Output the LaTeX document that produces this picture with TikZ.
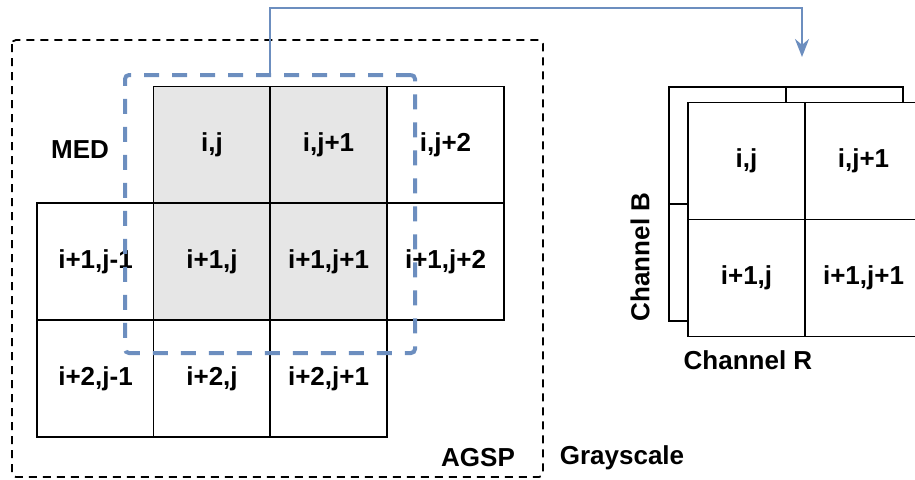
\documentclass[tikz,border=0pt]{standalone}
\usepackage{fontspec}
\setmainfont{Liberation Sans}
\usepackage{tikz}
\usetikzlibrary{positioning, arrows.meta}

\definecolor{roiblue}{HTML}{6C8EBF}
\definecolor{cellgray}{HTML}{E6E6E6}

\begin{document}
\begin{tikzpicture}[
  x=0.5pt, y=-0.5pt,
  >={Stealth[length=9pt, width=7pt]},
  cell/.style={rectangle, draw, line width=0.7pt, minimum width=58.5pt,
    minimum height=58.5pt, inner sep=0pt, font=\fontsize{13}{15}\selectfont\bfseries,
    fill=#1},
  cell/.default={white},
  lbl/.style={font=\fontsize{13}{15}\selectfont\bfseries, inner sep=0pt},
  region/.style={rectangle, draw=roiblue, line width=2pt,
    dash pattern=on 7.5pt off 6.5pt, rounded corners=2pt, inner sep=0pt},
  flow/.style={->, draw=roiblue, line width=1.3pt},
]
\useasboundingbox (0,0) rectangle (915,479);

% --- Grayscale frame ---
\draw[line width=0.9pt, dash pattern=on 4pt off 3pt, rounded corners=2pt]
  (12,40) rectangle (543,477);

% --- Grayscale grid ---
\node[cell=cellgray] (c00) at (212,145)   {i,j};
\node[cell=cellgray] (c01) at (328.5,145) {i,j+1};
\node[cell]          (c02) at (445.5,145) {i,j+2};

\node[cell]          (c1m) at (95.5,261.5)  {i+1,j-1};
\node[cell=cellgray] (c10) at (212,261.5)   {i+1,j};
\node[cell=cellgray] (c11) at (328.5,261.5) {i+1,j+1};
\node[cell]          (c12) at (445.5,261.5) {i+1,j+2};

\node[cell] (c2m) at (95.5,378.5)  {i+2,j-1};
\node[cell] (c20) at (212,378.5)   {i+2,j};
\node[cell] (c21) at (328.5,378.5) {i+2,j+1};

\node[lbl] (med)  at (80,150)  {MED};
\node[lbl] (agsp) at (478,458) {AGSP};
\node[lbl] (gray) at (622,458) {Grayscale};

% --- 2x2 window ---
\node[region, minimum width=145pt, minimum height=139pt] (roi) at (270,214) {};

% --- Channel stack ---
\node[cell] (b00) at (727.5,145.5) {};
\node[cell] (b01) at (844.5,145.5) {};
\node[cell] (b10) at (727.5,262.5) {};
\node[cell] (b11) at (844.5,262.5) {};

\node[cell] (r00) at (746.5,161) {i,j};
\node[cell] (r01) at (863.5,161) {i,j+1};
\node[cell] (r10) at (746.5,278) {i+1,j};
\node[cell] (r11) at (863.5,278) {i+1,j+1};

\node[lbl, rotate=90] (chb) at (640,257) {Channel B};
\node[lbl]            (chr) at (748,360) {Channel R};

% --- Window to channels ---
\coordinate (tgt) at (802,57);
\draw[flow] (roi.north) -- ++(0,-65) -| (tgt);

\end{tikzpicture}
\end{document}
